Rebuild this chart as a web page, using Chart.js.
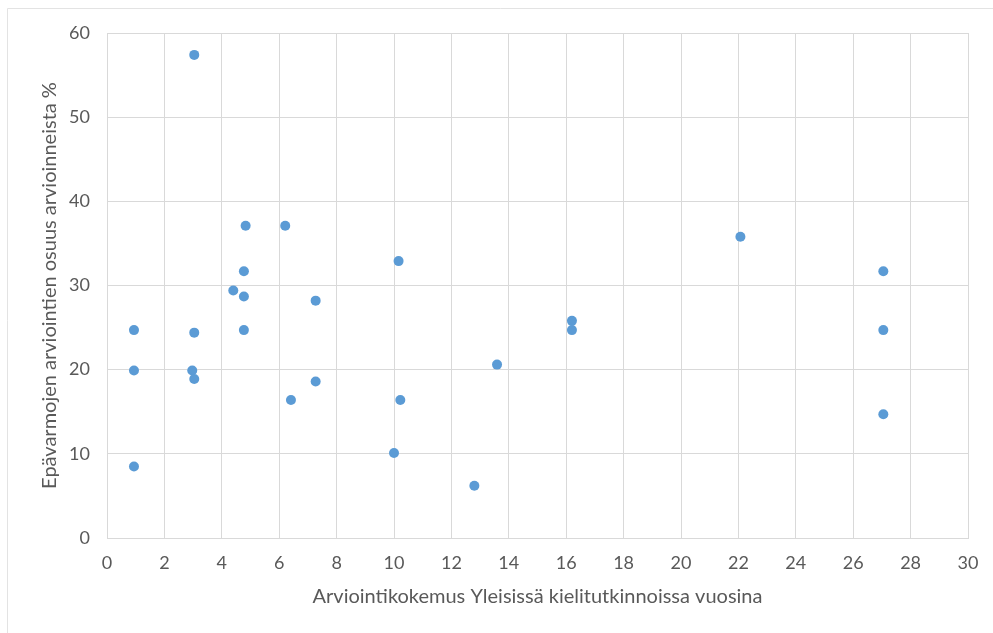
<!DOCTYPE html>
<html>
<head>
<meta charset="utf-8">
<script src="https://cdn.jsdelivr.net/npm/chart.js@4.4.1/dist/chart.umd.min.js"></script>
<style>
  html, body { margin: 0; padding: 0; background: #fff; }
  #wrap { position: relative; width: 993px; height: 633px; }
</style>
</head>
<body>
<div id="wrap"><canvas id="scatterChart"></canvas></div>
<script>
// experience in years (x) and share of uncertain ratings in % (y)
const experienceYears = [0.94, 0.94, 0.94, 2.97, 3.04, 3.04, 3.04, 4.40, 4.77, 4.77, 4.77, 4.83, 6.21, 6.41,
    7.27, 7.27, 10.0, 10.16, 10.22, 12.8, 13.59, 16.2, 16.2, 22.07, 27.05, 27.05, 27.05];
const uncertainShare = [24.7, 19.9, 8.5, 19.9, 18.9, 24.4, 57.4, 29.4, 31.7, 28.7, 24.7, 37.1, 37.1, 16.4,
    28.2, 18.6, 10.1, 32.9, 16.4, 6.2, 20.6, 25.8, 24.7, 35.8, 31.7, 24.7, 14.7];
const xTitle = 'Arviointikokemus Yleisissä kielitutkinnoissa vuosina';
const yTitle = 'Epävarmojen arviointien osuus arvioinneista %';

const colors = {
    point: '#5B9BD5',
    grid: '#D9D9D9',
    text: '#595959',
    frame: '#E3E3E3'
};
const font = "Lato, 'Open Sans', sans-serif";

const framePlugin = {
    id: 'frame',
    beforeDraw(chart) {
        const ctx = chart.ctx;
        ctx.save();
        ctx.strokeStyle = colors.frame;
        ctx.lineWidth = 1;
        ctx.beginPath();
        ctx.moveTo(7.5, chart.height);
        ctx.lineTo(7.5, 8.5);
        ctx.lineTo(chart.width, 8.5);
        ctx.stroke();
        ctx.restore();
    }
};

const ctx = document.getElementById('scatterChart').getContext('2d');
new Chart(ctx, {
    type: 'scatter',
    data: {
        datasets: [{
            data: experienceYears.map((x, i) => ({ x: x, y: uncertainShare[i] })),
            backgroundColor: colors.point,
            borderColor: colors.point,
            borderWidth: 0,
            pointRadius: 5
        }]
    },
    options: {
        responsive: true,
        maintainAspectRatio: false,
        animation: false,
        layout: { padding: { left: 34, top: 33, right: 25, bottom: 20 } },
        plugins: {
            legend: { display: false },
            tooltip: { enabled: false }
        },
        scales: {
            x: {
                type: 'linear',
                min: 0,
                max: 30,
                ticks: { stepSize: 2, color: colors.text, font: { family: font, size: 18 }, padding: 14 },
                grid: { color: colors.grid, drawTicks: false },
                border: { color: colors.grid },
                title: { display: true, text: xTitle, color: colors.text, font: { family: font, size: 20 } },
                afterFit: s => { s.height = 75; }
            },
            y: {
                min: 0,
                max: 60,
                ticks: { stepSize: 10, color: colors.text, font: { family: font, size: 18 }, padding: 17 },
                grid: { color: colors.grid, drawTicks: false },
                border: { color: colors.grid },
                title: { display: true, text: yTitle, color: colors.text, font: { family: font, size: 20 } },
                afterFit: s => { s.width = 73; }
            }
        }
    },
    plugins: [framePlugin]
});
</script>
</body>
</html>
